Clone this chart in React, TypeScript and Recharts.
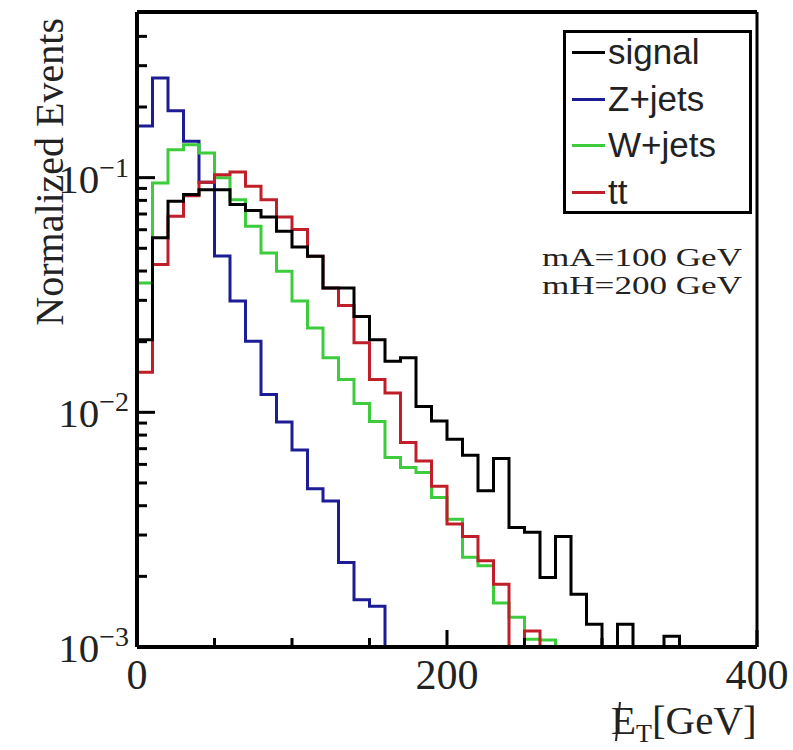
import React from 'react';
import { LineChart, Line, XAxis, YAxis, Legend } from 'recharts';

// bin edges in GeV (10 GeV bins, last edge closes the final step)
const binEdges = [
  0, 10, 20, 30, 40, 50, 60, 70, 80, 90, 100, 110, 120, 130, 140, 150, 160, 170, 180, 190,
  200, 210, 220, 230, 240, 250, 260, 270, 280, 290, 300, 310, 320, 330, 340, 350, 360, 370, 380, 390, 400,
];

// normalized bin contents (empty bins sit on the 1e-3 floor)
const signal = [
  0.0204, 0.0554, 0.0793, 0.0847, 0.0889, 0.0889, 0.0768, 0.0724, 0.068, 0.0591,
  0.0507, 0.0463, 0.0339, 0.0339, 0.0256, 0.0204, 0.0165, 0.0171, 0.0106, 0.00918,
  0.00768, 0.00656, 0.00463, 0.00635, 0.00323, 0.00308, 0.00198, 0.00296, 0.00168, 0.00125,
  0.001, 0.00125, 0.001, 0.001, 0.00111, 0.001, 0.001, 0.001, 0.001, 0.001,
];
const zJets = [
  0.166, 0.266, 0.193, 0.143, 0.0955, 0.0464, 0.0298, 0.0201, 0.0119, 0.00909,
  0.00691, 0.00473, 0.00419, 0.00229, 0.00159, 0.00149, 0.001, 0.001, 0.001, 0.001,
  0.001, 0.001, 0.001, 0.001, 0.001, 0.001, 0.001, 0.001, 0.001, 0.001,
  0.001, 0.001, 0.001, 0.001, 0.001, 0.001, 0.001, 0.001, 0.001, 0.001,
];
const wJets = [
  0.0356, 0.0949, 0.1315, 0.1381, 0.1274, 0.1, 0.0806, 0.0621, 0.0478, 0.0399,
  0.0298, 0.0229, 0.0171, 0.0138, 0.0109, 0.00915, 0.00642, 0.00582, 0.00554, 0.00434,
  0.0035, 0.00241, 0.00222, 0.00154, 0.00134, 0.00108, 0.00107, 0.001, 0.001, 0.001,
  0.001, 0.001, 0.001, 0.001, 0.001, 0.001, 0.001, 0.001, 0.001, 0.001,
];
const ttbar = [
  0.0148, 0.0426, 0.0684, 0.0838, 0.0955, 0.103, 0.1057, 0.0918, 0.0806, 0.068,
  0.0601, 0.0463, 0.0339, 0.0285, 0.0198, 0.0138, 0.0121, 0.00743, 0.00621, 0.00484,
  0.00334, 0.00296, 0.00233, 0.00185, 0.001, 0.00117, 0.001, 0.001, 0.001, 0.001,
  0.001, 0.001, 0.001, 0.001, 0.001, 0.001, 0.001, 0.001, 0.001, 0.001,
];

const xTicks = [0, 50, 100, 150, 200, 250, 300, 350, 400];
const xTickLabels = [0, 200, 400];
const yTicks = [
  0.001, 0.002, 0.003, 0.004, 0.005, 0.006, 0.007, 0.008, 0.009,
  0.01, 0.02, 0.03, 0.04, 0.05, 0.06, 0.07, 0.08, 0.09,
  0.1, 0.2, 0.3, 0.4,
];
const yDecades = [0.001, 0.01, 0.1];
const yDecadeExp = ['\u22123', '\u22122', '\u22121'];

const series = [
  { key: 'signal', name: 'signal', color: '#000000' },
  { key: 'zjets', name: 'Z+jets', color: '#1c1c96' },
  { key: 'wjets', name: 'W+jets', color: '#3ccc3c' },
  { key: 'tt', name: 'tt', color: '#c01e28' },
];

const SERIF = "'Liberation Serif', 'Times New Roman', serif";
const SANS = "'Liberation Sans', Arial, sans-serif";

const data = binEdges.map((x, i) => {
  const k = Math.min(i, signal.length - 1);
  return { x, signal: signal[k], zjets: zJets[k], wjets: wJets[k], tt: ttbar[k] };
});

const YTick = (props: any) => {
  const { x, y, payload } = props;
  const idx = yDecades.findIndex((d) => Math.abs(d - payload.value) < 1e-9);
  const len = idx >= 0 ? 18 : 10;
  return (
    <g>
      <line x1={x} y1={y} x2={x + len} y2={y} stroke="#000" strokeWidth={3} />
      {idx >= 0 && (
        <text x={x - 8} y={y + 15} textAnchor="end" fontFamily={SERIF} fontSize={41} fill="#222">
          10<tspan dy={-16} fontSize={28}>{yDecadeExp[idx]}</tspan>
        </text>
      )}
    </g>
  );
};

const XTick = (props: any) => {
  const { x, y, payload } = props;
  const labelled = xTickLabels.includes(payload.value);
  const len = labelled ? 17 : 9;
  return (
    <g>
      <line x1={x} y1={y} x2={x} y2={y - len} stroke="#000" strokeWidth={3} />
      {labelled && (
        <text x={x} y={y + 42} textAnchor="middle" fontFamily={SERIF} fontSize={42} fill="#222">
          {payload.value}
        </text>
      )}
    </g>
  );
};

const renderLegend = () => (
  <div
    style={{
      width: 189,
      height: 184,
      boxSizing: 'border-box',
      border: '3px solid #000',
      background: '#fff',
      position: 'relative',
    }}
  >
    {series.map((s, i) => (
      <div key={s.key} style={{ position: 'absolute', left: 0, top: 1 + i * 46.7 }}>
        <div style={{ position: 'absolute', left: 6, top: 17, width: 33, height: 3, background: s.color }} />
        <div style={{ position: 'absolute', left: 42, top: 0, fontFamily: SANS, fontSize: 35, lineHeight: '36px', color: '#222', whiteSpace: 'nowrap' }}>
          {s.name}
        </div>
      </div>
    ))}
  </div>
);

export default function App() {
  return (
    <div style={{ position: 'absolute', left: 0, top: 0, width: 793, height: 750, overflow: 'hidden', background: '#fff' }}>
      <LineChart width={793} height={750} data={data} margin={{ top: 0, right: 0, bottom: 0, left: 0 }}>
        <XAxis
          dataKey="x"
          type="number"
          domain={[0, 400]}
          ticks={xTicks}
          interval={0}
          height={103}
          tickSize={0}
          tickMargin={0}
          tick={<XTick />}
          axisLine={{ stroke: '#000', strokeWidth: 4 }}
          label={{
            content: () => (
              <g>
                <text x={611} y={734} fontFamily={SERIF} fontSize={41} fill="#222">
                  E
                  <tspan dy={8} fontSize={26}>T</tspan>
                  <tspan dy={-8} fontSize={41}>[GeV]</tspan>
                </text>
                <line x1={616} y1={741} x2={620} y2={702} stroke="#222" strokeWidth={2} />
              </g>
            ),
          }}
        />
        <XAxis
          xAxisId="top"
          orientation="top"
          dataKey="x"
          type="number"
          domain={[0, 400]}
          height={12}
          tick={false}
          tickLine={false}
          axisLine={{ stroke: '#000', strokeWidth: 4 }}
        />
        <YAxis
          scale="log"
          domain={[0.001, 0.508]}
          allowDataOverflow
          ticks={yTicks}
          interval={0}
          width={137}
          tickSize={0}
          tickMargin={0}
          tick={<YTick />}
          axisLine={{ stroke: '#000', strokeWidth: 4 }}
          label={{
            content: () => (
              <text transform="translate(63,18) rotate(-90)" textAnchor="end" fontFamily={SERIF} fontSize={40} fill="#222">
                Normalized Events
              </text>
            ),
          }}
        />
        <YAxis
          yAxisId="right"
          orientation="right"
          scale="log"
          domain={[0.001, 0.508]}
          allowDataOverflow
          width={36}
          tick={false}
          tickLine={false}
          axisLine={{ stroke: '#000', strokeWidth: 3 }}
          label={{
            content: () => (
              <g fontFamily={SERIF} fontSize={25} fill="#222">
                <text x={742} y={266} textAnchor="end" textLength={200} lengthAdjust="spacingAndGlyphs">mA=100 GeV</text>
                <text x={742} y={294} textAnchor="end" textLength={200} lengthAdjust="spacingAndGlyphs">mH=200 GeV</text>
              </g>
            ),
          }}
        />
        <Legend
          layout="horizontal"
          verticalAlign="middle"
          align="center"
          content={renderLegend}
          wrapperStyle={{ left: 563, top: 30, width: 189, height: 184 }}
        />
        <Line type="stepAfter" dataKey="zjets" stroke="#1c1c96" strokeWidth={3} dot={false} isAnimationActive={false} />
        <Line type="stepAfter" dataKey="wjets" stroke="#3ccc3c" strokeWidth={3} dot={false} isAnimationActive={false} />
        <Line type="stepAfter" dataKey="tt" stroke="#c01e28" strokeWidth={3} dot={false} isAnimationActive={false} />
        <Line type="stepAfter" dataKey="signal" stroke="#000000" strokeWidth={3} dot={false} isAnimationActive={false} />
      </LineChart>
    </div>
  );
}
